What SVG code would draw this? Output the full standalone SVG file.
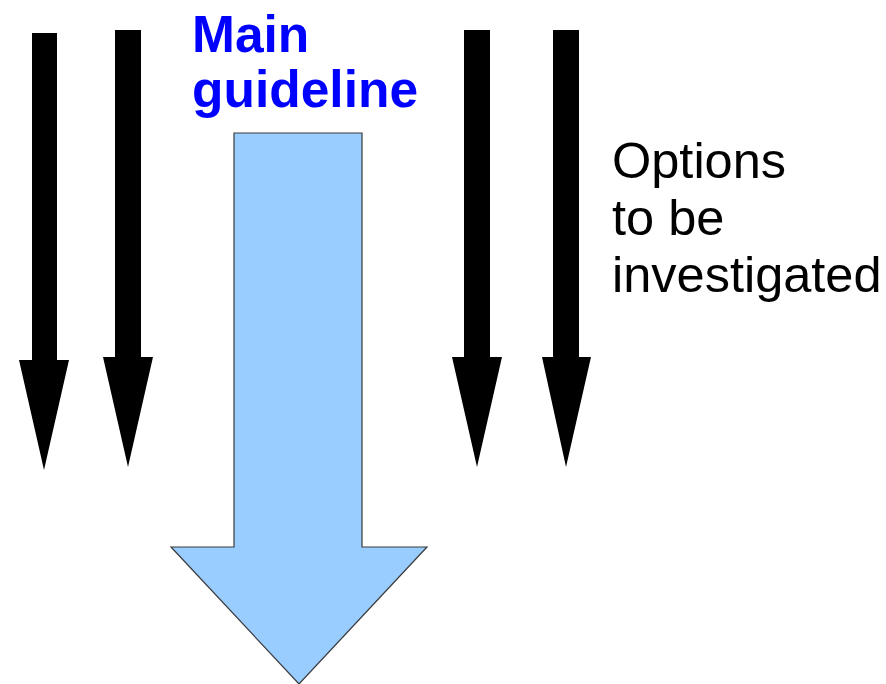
<svg xmlns="http://www.w3.org/2000/svg" width="886" height="684" viewBox="0 0 886 684">
<style>
.blk{fill:#000;stroke:none}
.main{fill:#99ccff;stroke:#3a3a3a;stroke-width:1.2}
.t1{font-family:"Liberation Sans",Arial,sans-serif;font-weight:bold;font-size:51.5px;fill:#0000ff}
.t2{font-family:"Liberation Sans",Arial,sans-serif;font-size:50.5px;fill:#000}
</style>
<rect width="886" height="684" fill="#fff"/>
<g id="connectors">
<polygon class="blk" points="32,33 57,33 57,360 69,360 44,470 19,360 32,360"/>
<polygon class="blk" points="115,30 141,30 141,357 153,357 128,467 103,357 115,357"/>
<polygon class="blk" points="464,30 490,30 490,357 502,357 477,467 452,357 464,357"/>
<polygon class="blk" points="553,30 579,30 579,357 591,357 566,467 542,357 553,357"/>
<polygon class="main" points="234,133 362,133 362,547 427,547 299,684 171,547 234,547"/>
</g>
<g id="main-label">
<text class="t1" x="192" y="52">Main</text>
<text class="t1" x="192" y="107">guideline</text>
</g>
<g id="options-label">
<text class="t2" x="612" y="178">Options</text>
<text class="t2" x="612" y="235">to be</text>
<text class="t2" x="612" y="292">investigated</text>
</g>
</svg>
